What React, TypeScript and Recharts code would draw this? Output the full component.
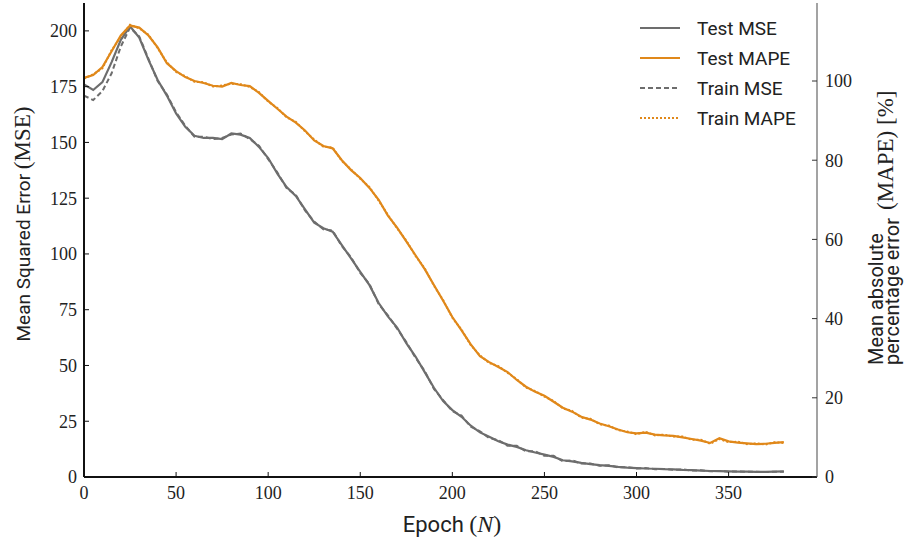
import { Legend, Line, LineChart, XAxis, YAxis } from "recharts";

const GRAY = "#6d6d6d";
const ORANGE = "#e0881a";
const INK = "#222";
const SERIF = '"Liberation Serif", "DejaVu Serif", serif';
const SANS = 'Roboto, "DejaVu Sans", sans-serif';

// epochs sampled every 5
const epochs = [
  0, 5, 10, 15, 20, 25, 30, 35, 40, 45, 50, 55, 60, 65, 70, 75, 80, 85, 90, 95,
  100, 105, 110, 115, 120, 125, 130, 135, 140, 145, 150, 155, 160, 165, 170, 175,
  180, 185, 190, 195, 200, 205, 210, 215, 220, 225, 230, 235, 240, 245, 250, 255,
  260, 265, 270, 275, 280, 285, 290, 295, 300, 305, 310, 315, 320, 325, 330, 335,
  340, 345, 350, 355, 360, 365, 370, 375, 380,
];

const testMse = [
  176, 173.5, 177, 186, 196, 202, 197, 187, 178, 171,
  163, 157, 153, 152, 152, 151.5, 154, 153.5, 152, 148,
  143, 136, 130, 126, 120, 114, 111.5, 110, 104, 98,
  92, 86, 78, 72, 67, 60, 54, 47, 40, 34,
  30, 27, 23, 20, 18, 16, 14.5, 13.5, 12, 11,
  10, 9, 7.5, 7, 6.3, 5.8, 5.3, 5, 4.5, 4.2,
  4, 3.8, 3.7, 3.5, 3.4, 3.2, 3.1, 2.9, 2.7, 2.6,
  2.5, 2.4, 2.4, 2.3, 2.3, 2.4, 2.5,
];

const trainMse = [
  171, 169, 173, 181, 193, 201.5, 197.5, 187.5, 177.5, 171.5,
  163.5, 157.5, 152.5, 152.5, 151.5, 152, 153.5, 154, 151.5, 148.5,
  142.5, 136.5, 129.5, 126.5, 119.5, 114.5, 111, 110.5, 103.5, 98.5,
  91.5, 86.5, 77.5, 72.5, 66.5, 60.5, 53.5, 47.5, 39.5, 34.5,
  29.5, 27.5, 22.5, 20.5, 17.5, 16.5, 14, 14, 11.5, 11.5,
  9.5, 9.5, 7, 7.5, 6, 6, 5, 5.3, 4.3, 4.4,
  3.8, 4, 3.5, 3.6, 3.2, 3.4, 2.9, 3, 2.6, 2.7,
  2.4, 2.5, 2.3, 2.4, 2.2, 2.4, 2.4,
];

const testMape = [
  100.8, 101.5, 103.5, 107.5, 111.5, 114, 113.5, 111.5, 108.5, 104.5,
  102.5, 101, 100, 99.5, 98.8, 98.6, 99.5, 99, 98.7, 97,
  95, 93, 91, 89.5, 87.5, 85, 83.6, 83, 80, 77.5,
  75.5, 73, 70, 66, 63, 59.5, 56, 52.5, 48.5, 44.5,
  40.4, 37, 33.5, 30.5, 29, 27.8, 26.5, 24.5, 22.8, 21.5,
  20.5, 19, 17.5, 16.5, 15.2, 14.5, 13.5, 12.8, 12, 11.3,
  11, 11.2, 10.7, 10.5, 10.4, 10, 9.6, 9.2, 8.6, 9.8,
  9, 8.7, 8.5, 8.3, 8.4, 8.6, 8.8,
];

const trainMape = [
  100.6, 101.7, 103.2, 107.8, 111.2, 114.2, 113.3, 111.7, 108.3, 104.7,
  102.3, 101.2, 99.8, 99.7, 98.6, 98.9, 99.3, 99.2, 98.5, 97.2,
  94.8, 93.2, 90.8, 89.7, 87.3, 85.2, 83.4, 83.2, 79.8, 77.7,
  75.3, 73.2, 69.8, 66.2, 62.8, 59.7, 55.8, 52.7, 48.3, 44.7,
  40.2, 37.2, 33.3, 30.7, 28.8, 28, 26.3, 24.7, 22.6, 21.7,
  20.3, 19.2, 17.3, 16.7, 15, 14.7, 13.3, 13, 11.8, 11.5,
  10.8, 11.4, 10.5, 10.7, 10.2, 10.2, 9.4, 9.4, 8.4, 9.6,
  8.8, 8.9, 8.3, 8.5, 8.2, 8.8, 8.6,
];

const epochTicks = [0, 50, 100, 150, 200, 250, 300, 350];
const mseTicks = [0, 25, 50, 75, 100, 125, 150, 175, 200];
const mapeTicks = [0, 20, 40, 60, 80, 100];

const legendItems = [
  { name: "Test MSE", color: GRAY, dash: undefined },
  { name: "Test MAPE", color: ORANGE, dash: undefined },
  { name: "Train MSE", color: GRAY, dash: "5 3" },
  { name: "Train MAPE", color: ORANGE, dash: "2 2" },
];

const data = epochs.map((epoch, i) => ({
  epoch,
  testMse: testMse[i],
  trainMse: trainMse[i],
  testMape: testMape[i],
  trainMape: trainMape[i],
}));

// serif tick labels, like the LaTeX figure
function SerifTick(props: any) {
  const { x, y, payload, textAnchor, orientation } = props;
  const dy = orientation === "bottom" ? "0.71em" : "0.355em";
  return (
    <text x={x} y={y} dy={dy} textAnchor={textAnchor} fill={INK} fontFamily={SERIF} fontSize={18}>
      {payload.value}
    </text>
  );
}

function LegendBox() {
  return (
    <div style={{ fontFamily: SANS, fontSize: 19, color: INK }}>
      {legendItems.map((it) => (
        <div key={it.name} style={{ display: "flex", alignItems: "center", height: 30 }}>
          <svg width={44} height={6}>
            <line x1={2} y1={3} x2={42} y2={3} stroke={it.color} strokeWidth={2} strokeDasharray={it.dash} />
          </svg>
          <span style={{ marginLeft: 15 }}>{it.name}</span>
        </div>
      ))}
    </div>
  );
}

function MseLabel() {
  return (
    <text transform="translate(30, 224) rotate(-90)" textAnchor="middle" fill={INK} fontFamily={SANS} fontSize={19}>
      Mean Squared Error{" "}
      <tspan fontFamily={SERIF} fontSize={23}>(MSE)</tspan>
    </text>
  );
}

function MapeLabel() {
  return (
    <g fill={INK}>
      <text transform="translate(883, 365) rotate(-90)" fontFamily={SANS} fontSize={20}>Mean absolute</text>
      <text transform="translate(899, 365) rotate(-90)" fontFamily={SANS} fontSize={20}>percentage error</text>
      <text transform="translate(893, 210) rotate(-90)" fontFamily={SERIF} fontSize={23}>(MAPE) [%]</text>
    </g>
  );
}

function EpochLabel() {
  return (
    <text x={452} y={532} textAnchor="middle" fill={INK} fontFamily={SANS} fontSize={22}>
      Epoch{" "}
      <tspan fontFamily={SERIF} fontSize={24}>
        (<tspan fontStyle="italic">N</tspan>)
      </tspan>
    </text>
  );
}

export default function App() {
  return (
    <div style={{ position: "absolute", left: 0, top: 0, width: 911, height: 541, background: "#fff" }}>
      <LineChart width={911} height={541} data={data} margin={{ top: 3, right: 0, bottom: 0, left: 0 }}>
        <XAxis
          dataKey="epoch"
          type="number"
          domain={[0, 398]}
          ticks={epochTicks}
          height={64}
          tickSize={-5}
          tickMargin={14}
          tick={<SerifTick orientation="bottom" />}
          axisLine={{ stroke: "#111", strokeWidth: 2 }}
          tickLine={{ stroke: "#111" }}
          label={<EpochLabel />}
        />
        <XAxis
          xAxisId="top"
          orientation="top"
          dataKey="epoch"
          type="number"
          domain={[0, 398]}
          height={0}
          tick={false}
          tickLine={false}
          axisLine={{ stroke: "#666", strokeWidth: 1.2 }}
        />
        <YAxis
          yAxisId="mse"
          type="number"
          domain={[0, 212.5]}
          ticks={mseTicks}
          width={84}
          tickSize={-5}
          tickMargin={12}
          tick={<SerifTick orientation="left" />}
          axisLine={{ stroke: "#111", strokeWidth: 2 }}
          tickLine={{ stroke: "#111" }}
          label={<MseLabel />}
        />
        <YAxis
          yAxisId="mape"
          orientation="right"
          type="number"
          domain={[0, 119.7]}
          ticks={mapeTicks}
          width={94}
          tickSize={-5}
          tickMargin={13}
          tick={<SerifTick orientation="right" />}
          axisLine={{ stroke: "#666", strokeWidth: 1.2 }}
          tickLine={{ stroke: "#333" }}
          label={<MapeLabel />}
        />
        <Legend
          layout="vertical"
          align="center"
          verticalAlign="middle"
          content={<LegendBox />}
          wrapperStyle={{ position: "absolute", left: 638, top: 13, width: 180, height: 120 }}
        />
        <Line yAxisId="mse" dataKey="trainMse" stroke={GRAY} strokeWidth={2} strokeDasharray="5 3" dot={false} isAnimationActive={false} />
        <Line yAxisId="mape" dataKey="trainMape" stroke={ORANGE} strokeWidth={2} strokeDasharray="2 2" dot={false} isAnimationActive={false} />
        <Line yAxisId="mse" dataKey="testMse" stroke={GRAY} strokeWidth={2.2} dot={false} isAnimationActive={false} />
        <Line yAxisId="mape" dataKey="testMape" stroke={ORANGE} strokeWidth={2.2} dot={false} isAnimationActive={false} />
      </LineChart>
    </div>
  );
}
